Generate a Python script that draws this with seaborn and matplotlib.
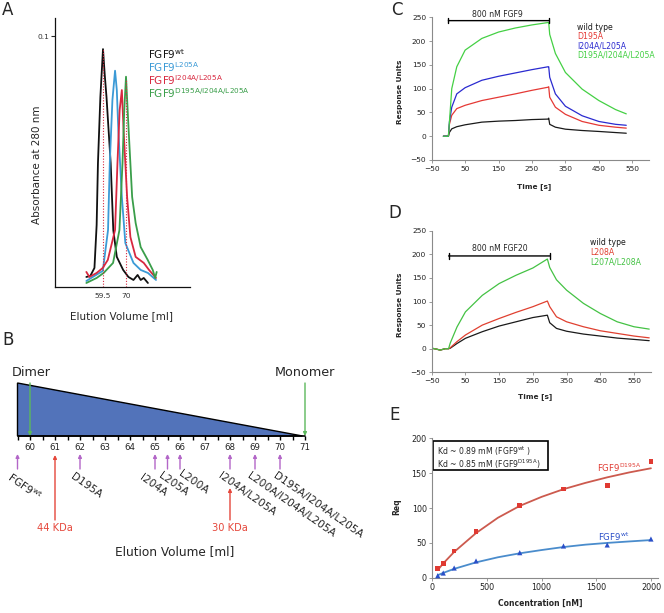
import matplotlib
matplotlib.use("Agg")
import matplotlib.pyplot as plt
from matplotlib.patches import Rectangle
import numpy as np
import seaborn as sns

sns.set_theme(style="ticks")
plt.rcParams['font.family'] = ['DejaVu Sans']
plt.rcParams['mathtext.fontset'] = 'dejavusans'

# --- panel A: gel filtration traces (elution ml, A280) ---
A_WT_X = [51.9, 53.7, 55.6, 56.6, 57.2, 58.3, 59.5, 60.3, 61.1, 63.0, 64.2, 65.8, 68.7, 71.1, 73.4, 75.3, 76.7, 78.1, 80.0]
A_WT_Y = [0.0040, 0.0044, 0.0076, 0.0247, 0.0494, 0.0757, 0.0948, 0.0845, 0.0757, 0.0494, 0.0227, 0.0120, 0.0068, 0.0040, 0.0028, 0.0048, 0.0028, 0.0036, 0.0016]
A_L205_X = [51.9, 55.6, 59.4, 61.8, 62.6, 63.8, 65.0, 65.8, 66.5, 68.1, 69.7, 73.4, 76.7, 80.0, 83.7]
A_L205_Y = [0.0024, 0.0044, 0.0064, 0.0227, 0.0494, 0.0745, 0.0862, 0.0785, 0.0625, 0.0359, 0.0175, 0.0096, 0.0068, 0.0056, 0.0028]
A_I204_X = [51.9, 53.3, 56.6, 59.4, 61.7, 65.0, 66.1, 67.1, 68.1, 68.9, 70.5, 72.0, 74.4, 78.1, 80.5, 83.7]
A_I204_Y = [0.0060, 0.0040, 0.0056, 0.0076, 0.0108, 0.0227, 0.0494, 0.0705, 0.0785, 0.0625, 0.0359, 0.0199, 0.0120, 0.0096, 0.0068, 0.0036]
A_TRI_X = [51.9, 56.6, 59.8, 64.1, 67.0, 68.4, 69.2, 70.0, 71.2, 72.8, 74.4, 76.7, 79.9, 82.2, 83.3, 84.0]
A_TRI_Y = [0.0016, 0.0036, 0.0056, 0.0096, 0.0227, 0.0494, 0.0705, 0.0838, 0.0625, 0.0359, 0.0255, 0.0159, 0.0108, 0.0068, 0.0036, 0.0060]
A_MARKS = [59.5, 70]
A_MARK_TOPS = [0.0948, 0.083]

# --- panel B: elution positions (ml) ---
B_TICKS = list(range(60, 72))
B_GRAD_X = [59.5, 59.5, 70.9]
B_GRAD_H = [0, 53, 0]
B_DIMER, B_MONOMER = 60, 71
B_MUT_POS = [59.5, 62, 65, 65.5, 66, 68, 69, 70]
B_MUT_LAB = [r'FGF9$^{\rm wt}$', 'D195A', 'I204A', 'L205A', 'L200A', 'I204A/L205A',
             'L200A/I204A/L205A', 'D195A/I204A/L205A']
B_STD_POS = [61, 68]
B_STD_LAB = ['44 KDa', '30 KDa']

# --- panel C: SPR FGF9 ---
C_TIME = [-15, 0, 3, 10, 25, 50, 100, 150, 200, 250, 298, 300, 303, 320, 350, 400, 450, 500, 532]
C_WT = [0, 0, 8, 15.5, 20, 24, 29.6, 31.7, 33, 35, 36, 38, 25, 19, 14.8, 12, 10, 7.7, 6.3]
C_D195A = [0, 0, 25, 44, 58, 65, 75, 82, 89, 96.5, 103, 104, 82, 61, 46, 31, 23, 19, 17]
C_I204L205 = [0, 0, 30, 61, 89, 102, 117.6, 126, 133, 140, 146, 146, 124, 89, 63, 43, 31, 25, 23]
C_TRIPLE = [0, 0, 30, 100, 146, 181, 205.6, 219, 227.5, 234, 239, 239, 214, 174, 134, 99, 75, 56, 47]
C_LEGEND = ['wild type', 'D195A', 'I204A/L205A', 'D195A/I204A/L205A']

# --- panel D: SPR FGF20 ---
D_TIME = [-50, -35, -25, -10, 0, 5, 25, 50, 100, 150, 200, 250, 293, 300, 320, 350, 400, 450, 500, 550, 595]
D_WT = [1, -1, -3, 0, 0, 1, 11, 22, 36, 48, 57, 66, 71, 55, 43, 37, 31, 26.8, 22.5, 19.7, 17]
D_L208A = [1, -1, -3, 0, 0, 2, 15, 29, 50, 64, 77, 89, 101, 89, 67.6, 57, 46.5, 38, 32.4, 26.8, 23]
D_L207L208 = [1, -1, -3, 0, 0, 12, 46, 78, 113, 138, 155.6, 171, 190, 172, 146, 124, 96, 74.6, 57, 46.5, 41.5]
D_LEGEND = ['wild type', 'L208A', 'L207A/L208A']

INJ_START, INJ_END = 0, 300

# --- panel E: steady-state binding ---
E_CONC = [50, 100, 200, 400, 800, 1200, 1600, 2000]
E_D195A = [13.4, 20.6, 38.3, 66, 104, 127, 132, 166.5]
E_WT = [2.9, 6.7, 13.9, 24, 35.9, 45.5, 47, 55.5]
E_FIT_X = [50, 100, 200, 400, 600, 800, 1000, 1200, 1400, 1600, 1800, 2000]
E_FIT_D195A = [11, 20.5, 37, 64, 86, 103, 116, 127, 136, 144, 151, 157]
E_FIT_WT = [3.6, 6.9, 12.7, 22, 29.3, 35, 39.7, 44, 47.4, 49.9, 52, 54]

W, H = 664.0, 613.0


def box(l, t, r, b):
    return [l / W, 1 - b / H, (r - l) / W, (b - t) / H]


def excel_style(ax):
    for s in ['top', 'right']:
        ax.spines[s].set_visible(False)
    for s in ['left', 'bottom']:
        ax.spines[s].set_color('#8a8a8a')
        ax.spines[s].set_linewidth(0.8)
    ax.tick_params(direction='out', length=2.5, width=0.6, color='#8a8a8a',
                   labelsize=5.4, labelcolor='#222222', pad=1.5)


fig = plt.figure(figsize=(6.64, 6.13), dpi=100)

# ===== A =====
ax_a = fig.add_axes(box(55, 18, 190, 287))
for xs, ys, c in [(A_WT_X, A_WT_Y, '#111111'), (A_L205_X, A_L205_Y, '#3b9ad6'),
                  (A_I204_X, A_I204_Y, '#d8283f'), (A_TRI_X, A_TRI_Y, '#3a9e4a')]:
    sns.lineplot(x=xs, y=ys, ax=ax_a, color=c, linewidth=1.3, estimator=None, sort=False)
ax_a.vlines(A_MARKS, 0, A_MARK_TOPS, colors='#d8283f', linestyles=(0, (1, 1.5)), linewidth=0.8)
ax_a.set_xlim(37.6, 99.2)
ax_a.set_ylim(0, 0.1072)
ax_a.set_xticks(A_MARKS)
ax_a.set_xticklabels(['59.5', '70'])
ax_a.set_yticks([0.1])
ax_a.set_yticklabels(['0.1'])
ax_a.tick_params(axis='x', length=0, labelsize=5.4, pad=4, labelcolor='#333333')
ax_a.tick_params(axis='y', length=3, width=0.8, labelsize=5.4, pad=1, labelcolor='#333333')
for s in ['top', 'right']:
    ax_a.spines[s].set_visible(False)
for s in ['left', 'bottom']:
    ax_a.spines[s].set_color('#111111')
    ax_a.spines[s].set_linewidth(0.9)
ax_a.set_ylabel('Absorbance at 280 nm', fontsize=7.5)
ax_a.yaxis.set_label_coords(-0.096, 0.454)
ax_a.set_xlabel('Elution Volume [ml]', fontsize=7.5)
ax_a.xaxis.set_label_coords(0.496, -0.089)
a_leg = [(r'FGF9$^{\rm wt}$', '#111111'), (r'FGF9$^{\rm L205A}$', '#3b9ad6'),
         (r'FGF9$^{\rm I204A/L205A}$', '#d8283f'), (r'FGF9$^{\rm D195A/I204A/L205A}$', '#3a9e4a')]
for i, (t, c) in enumerate(a_leg):
    ax_a.text(80.0, 0.0930 - i * 0.0053, t, color=c, fontsize=7.5, va='center', ha='left')

# ===== B =====
ax_b = fig.add_axes(box(0, 360, 330, 560))
ax_b.set_xlim(58.8, 72.0)
ax_b.set_ylim(-124, 76)
ax_b.axis('off')
ax_b.fill(B_GRAD_X, B_GRAD_H, facecolor='#5273ba', edgecolor='black', linewidth=1.0)
ax_b.plot([B_GRAD_X[0], B_MONOMER], [0, 0], color='black', linewidth=1.2)
ax_b.vlines(np.arange(59.5, 71.01, 0.5), -4, 0, colors='black', linewidth=1.0)
for v in B_TICKS:
    ax_b.text(v, -7.5, str(v), ha='center', va='top', fontsize=6.2, color='#222222')
for xv in [B_DIMER, B_MONOMER]:
    ax_b.annotate('', xy=(xv, 0), xytext=(xv, 53),
                  arrowprops=dict(arrowstyle='-|>', color='#5cb85c', lw=1.0,
                                  mutation_scale=5, shrinkA=0, shrinkB=0))
ax_b.text(59.28, 63, 'Dimer', fontsize=9.2, ha='left', va='center')
ax_b.text(B_MONOMER, 63, 'Monomer', fontsize=9.2, ha='center', va='center')
lab_dx = [-0.18, -0.2, -0.44, -0.2, 0.1, -0.3, -0.17, -0.1]
lab_top = [-34, -35, -36, -34, -32, -35, -35, -35]
for xv, lab, dx, ty in zip(B_MUT_POS, B_MUT_LAB, lab_dx, lab_top):
    ax_b.annotate('', xy=(xv, -18), xytext=(xv, -33),
                  arrowprops=dict(arrowstyle='-|>', color='#b366c8', lw=1.0,
                                  mutation_scale=5, shrinkA=0, shrinkB=0))
    ax_b.text(xv + dx, ty, lab, fontsize=7.7, ha='left', va='top', rotation=-35,
              rotation_mode='anchor', clip_on=False)
for xv, lab, head in zip(B_STD_POS, B_STD_LAB, [-19, -52]):
    ax_b.annotate('', xy=(xv, head), xytext=(xv, -84),
                  arrowprops=dict(arrowstyle='-|>', color='#e5473b', lw=1.0,
                                  mutation_scale=5, shrinkA=0, shrinkB=0))
    ax_b.text(xv, -92, lab, fontsize=7.1, color='#e5473b', ha='center', va='center')
ax_b.text(65.8, -116, 'Elution Volume [ml]', fontsize=8.7, ha='center', va='center')

# ===== C =====
ax_c = fig.add_axes(box(431.7, 17.3, 649.0, 160))
c_cols = ['#1a1a1a', '#e53935', '#2a2ad0', '#44d044']
for ys, c in zip([C_WT, C_D195A, C_I204L205, C_TRIPLE], c_cols):
    sns.lineplot(x=C_TIME, y=ys, ax=ax_c, color=c, linewidth=0.9, estimator=None, sort=False)
ax_c.set_xlim(-50, 600)
ax_c.set_ylim(-50, 250)
ax_c.set_xticks(range(-50, 551, 100))
ax_c.set_yticks(range(-50, 251, 50))
excel_style(ax_c)
ax_c.annotate('', xy=(INJ_START, 243), xytext=(INJ_END, 243),
              arrowprops=dict(arrowstyle='|-|', lw=1.0, color='black', mutation_scale=2,
                              shrinkA=0, shrinkB=0))
ax_c.text(147, 255, '800 nM FGF9', fontsize=5.6, ha='center', va='center')
for i, (lab, c) in enumerate(zip(C_LEGEND, c_cols)):
    ax_c.text(385, 229.6 - i * 19.7, lab, color=c, fontsize=5.6, ha='left', va='center')
ax_c.set_ylabel('Response Units', fontsize=5.3, fontweight='bold')
ax_c.yaxis.set_label_coords(-0.132, 0.476)
ax_c.set_xlabel('Time [s]', fontsize=5.3, fontweight='bold')
ax_c.xaxis.set_label_coords(0.47, -0.161)

# ===== D =====
ax_d = fig.add_axes(box(431.7, 230.7, 650.9, 372.3))
d_cols = ['#1a1a1a', '#e04030', '#44c244']
for ys, c in zip([D_WT, D_L208A, D_L207L208], d_cols):
    sns.lineplot(x=D_TIME, y=ys, ax=ax_d, color=c, linewidth=0.9, estimator=None, sort=False)
ax_d.set_xlim(-50, 600)
ax_d.set_ylim(-50, 250)
ax_d.set_xticks(range(-50, 551, 100))
ax_d.set_yticks(range(-50, 251, 50))
excel_style(ax_d)
ax_d.annotate('', xy=(INJ_START, 196.5), xytext=(INJ_END, 196.5),
              arrowprops=dict(arrowstyle='|-|', lw=1.0, color='black', mutation_scale=2,
                              shrinkA=0, shrinkB=0))
ax_d.text(152, 212, '800 nM FGF20', fontsize=5.6, ha='center', va='center')
for i, (lab, c) in enumerate(zip(D_LEGEND, d_cols)):
    ax_d.text(419, 224 - i * 20, lab, color=c, fontsize=5.6, ha='left', va='center')
ax_d.set_ylabel('Response Units', fontsize=5.3, fontweight='bold')
ax_d.yaxis.set_label_coords(-0.13, 0.475)
ax_d.set_xlabel('Time [s]', fontsize=5.3, fontweight='bold')
ax_d.xaxis.set_label_coords(0.47, -0.148)

# ===== E =====
ax_e = fig.add_axes(box(432.3, 438.3, 657.5, 577.7))
sns.lineplot(x=E_FIT_X, y=E_FIT_D195A, ax=ax_e, color='#cc5a4e', linewidth=1.3, estimator=None)
sns.lineplot(x=E_FIT_X, y=E_FIT_WT, ax=ax_e, color='#4a8ccc', linewidth=1.3, estimator=None)
sns.scatterplot(x=E_CONC, y=E_D195A, ax=ax_e, marker='s', s=11, color='#e03a32',
                edgecolor='none', clip_on=False, zorder=3)
sns.scatterplot(x=E_CONC, y=E_WT, ax=ax_e, marker='^', s=14, color='#2a4fc8',
                edgecolor='none', clip_on=False, zorder=3)
ax_e.set_xlim(0, 2060)
ax_e.set_ylim(0, 200)
ax_e.set_xticks(range(0, 2001, 500))
ax_e.set_yticks(range(0, 201, 50))
excel_style(ax_e)
ax_e.tick_params(labelsize=5.8)
ax_e.add_patch(Rectangle((10, 154.5), 1050, 41, fill=False, edgecolor='black', linewidth=1.2))
ax_e.text(40, 182, r'Kd ~ 0.89 mM (FGF9$^{\rm wt}$ )', fontsize=5.6, ha='left', va='center')
ax_e.text(40, 163, r'Kd ~ 0.85 mM (FGF9$^{\rm D195A}$)', fontsize=5.6, ha='left', va='center')
ax_e.text(1505, 158, r'FGF9$^{\rm D195A}$', fontsize=6.2, color='#e03a32', ha='left', va='center')
ax_e.text(1518, 59, r'FGF9$^{\rm wt}$', fontsize=6.2, color='#2a4fc8', ha='left', va='center')
ax_e.set_ylabel('Req', fontsize=5.5, fontweight='bold')
ax_e.yaxis.set_label_coords(-0.14, 0.507)
ax_e.set_xlabel('Concentration [nM]', fontsize=5.5, fontweight='bold')
ax_e.xaxis.set_label_coords(0.478, -0.153)

# panel letters
for lab, px, py in [('A', 8, 10), ('B', 8, 340), ('C', 397, 10), ('D', 395, 213), ('E', 395, 415)]:
    fig.text(px / W, 1 - py / H, lab, fontsize=12, ha='center', va='center')

fig.savefig('out.png', dpi=100)
